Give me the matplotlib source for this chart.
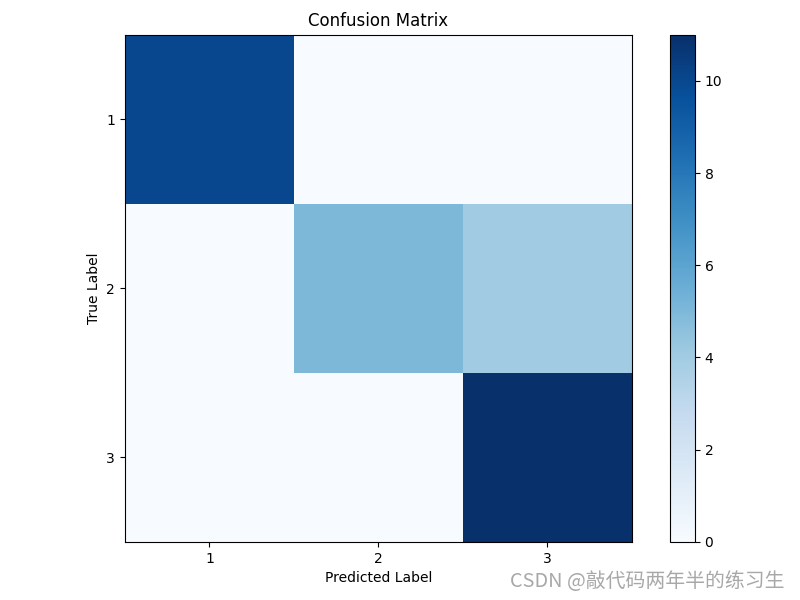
import matplotlib
matplotlib.use("Agg")
import matplotlib.pyplot as plt
import numpy as np

labels = ["1", "2", "3"]
matrix = np.array([[10, 0, 0],
                   [0, 5, 4],
                   [0, 0, 11]])

fig = plt.figure(figsize=(8, 6), dpi=100)
ax = fig.add_axes([0.156, 0.097, 0.634, 0.845])
im = ax.imshow(matrix, cmap="Blues", interpolation="nearest")
ax.set_title("Confusion Matrix")
ax.set_xticks(range(len(labels)))
ax.set_xticklabels(labels)
ax.set_yticks(range(len(labels)))
ax.set_yticklabels(labels)
ax.set_xlabel("Predicted Label")
ax.set_ylabel("True Label")
cax = fig.add_axes([0.8375, 0.097, 0.031, 0.845])
fig.colorbar(im, cax=cax)
fig.text(0.981, 0.031, "CSDN @敲代码两年半的练习生", ha="right", va="center",
         fontsize=14.3, color="#a8a8a8",
         family=["Noto Sans CJK SC", "DejaVu Sans"])
fig.savefig("out.png", dpi=100)
